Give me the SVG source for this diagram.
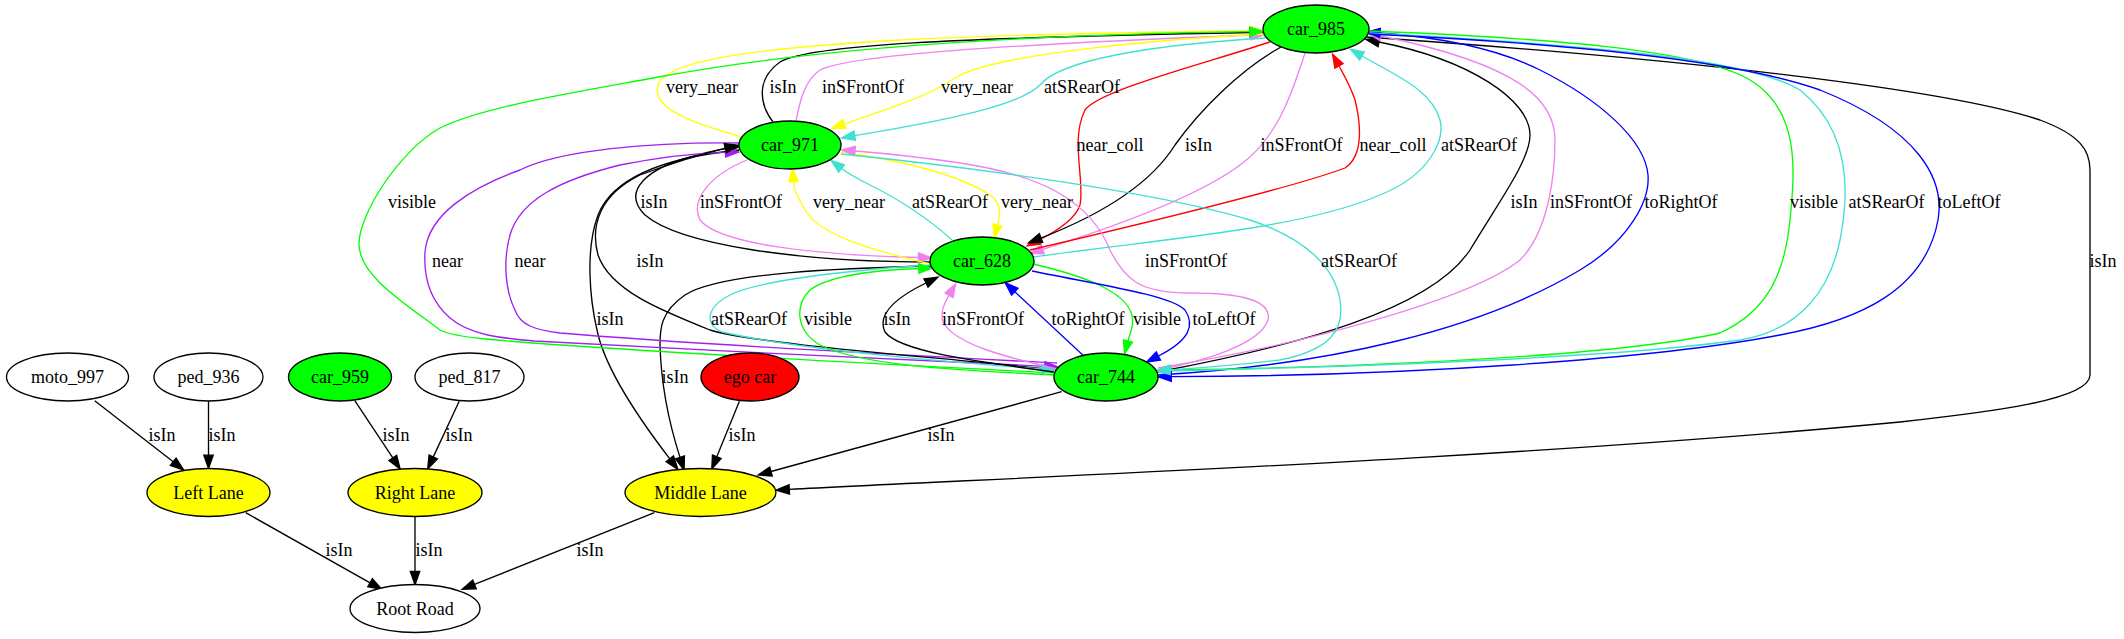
<svg xmlns="http://www.w3.org/2000/svg" width="2124" height="639" viewBox="0 0 2124 639">
<style>
.n{stroke:#000;stroke-width:1.33}
.w{fill:#fff}.g{fill:#00ff00}.r{fill:#ff0000}.y{fill:#ffff00}
text{font-family:"Liberation Serif","Times New Roman",serif;font-size:18px;text-anchor:middle;fill:#000}
.e{fill:none;stroke-width:1.33}
.k{stroke:#000;marker-end:url(#ak)}
.ye{stroke:#ffff00;marker-end:url(#ay)}
.gr{stroke:#00ff00;marker-end:url(#ag)}
.vi{stroke:#ee82ee;marker-end:url(#av)}
.tq{stroke:#40e0d0;marker-end:url(#at)}
.rd{stroke:#ff0000;marker-end:url(#ar)}
.bl{stroke:#0000ff;marker-end:url(#ab)}
.pu{stroke:#a020f0;marker-end:url(#ap)}
</style>
<defs>
<marker id="ak" viewBox="0 0 14 10" refX="0" refY="5" markerWidth="14" markerHeight="10" markerUnits="userSpaceOnUse" orient="auto" overflow="visible"><path d="M0,0.33 L13.3,5 L0,9.67 z" fill="#000" stroke="#000" stroke-width="1.33"/></marker>
<marker id="ay" viewBox="0 0 14 10" refX="0" refY="5" markerWidth="14" markerHeight="10" markerUnits="userSpaceOnUse" orient="auto" overflow="visible"><path d="M0,0.33 L13.3,5 L0,9.67 z" fill="#ffff00" stroke="#ffff00" stroke-width="1.33"/></marker>
<marker id="ag" viewBox="0 0 14 10" refX="0" refY="5" markerWidth="14" markerHeight="10" markerUnits="userSpaceOnUse" orient="auto" overflow="visible"><path d="M0,0.33 L13.3,5 L0,9.67 z" fill="#00ff00" stroke="#00ff00" stroke-width="1.33"/></marker>
<marker id="av" viewBox="0 0 14 10" refX="0" refY="5" markerWidth="14" markerHeight="10" markerUnits="userSpaceOnUse" orient="auto" overflow="visible"><path d="M0,0.33 L13.3,5 L0,9.67 z" fill="#ee82ee" stroke="#ee82ee" stroke-width="1.33"/></marker>
<marker id="at" viewBox="0 0 14 10" refX="0" refY="5" markerWidth="14" markerHeight="10" markerUnits="userSpaceOnUse" orient="auto" overflow="visible"><path d="M0,0.33 L13.3,5 L0,9.67 z" fill="#40e0d0" stroke="#40e0d0" stroke-width="1.33"/></marker>
<marker id="ar" viewBox="0 0 14 10" refX="0" refY="5" markerWidth="14" markerHeight="10" markerUnits="userSpaceOnUse" orient="auto" overflow="visible"><path d="M0,0.33 L13.3,5 L0,9.67 z" fill="#ff0000" stroke="#ff0000" stroke-width="1.33"/></marker>
<marker id="ab" viewBox="0 0 14 10" refX="0" refY="5" markerWidth="14" markerHeight="10" markerUnits="userSpaceOnUse" orient="auto" overflow="visible"><path d="M0,0.33 L13.3,5 L0,9.67 z" fill="#0000ff" stroke="#0000ff" stroke-width="1.33"/></marker>
<marker id="ap" viewBox="0 0 14 10" refX="0" refY="5" markerWidth="14" markerHeight="10" markerUnits="userSpaceOnUse" orient="auto" overflow="visible"><path d="M0,0.33 L13.3,5 L0,9.67 z" fill="#a020f0" stroke="#a020f0" stroke-width="1.33"/></marker>
</defs>
<rect width="2124" height="639" fill="#fff"/>
<g id="connectors">
<path class="e k" d="M94.7,400.7 L173.2,461.8"/>
<path class="e k" d="M208.5,401 L208.5,455.2"/>
<path class="e k" d="M354.8,400.7 L392.8,457.9"/>
<path class="e k" d="M459.2,401.3 L433.3,456.9"/>
<path class="e k" d="M739.4,401.3 L716.8,456.7"/>
<path class="e k" d="M245.7,512.7 L370.1,582.8"/>
<path class="e k" d="M415,516.5 L415,571.5"/>
<path class="e k" d="M654.4,512.7 L474.5,584.4"/>
<path class="e k" d="M1061.7,391.7 L771,471.5"/>
<path class="e k" d="M1366,37 C1700,60 1950,90 2040,120 C2080,135 2090,150 2090,170 L2090,375 C2090,400 1990,412 1900,422 C1500,460 1000,478 789.3,489.4"/>
<path class="e k" d="M739,150 C660,158 612,180 598,215 C585,250 590,300 597,330 C605,370 640,420 669.8,458.8"/>
<path class="e k" d="M932,266 C850,268 720,272 685,295 C660,312 660,330 660,345 C661,380 668,420 680,457.4"/>
<path class="e ye" d="M742,137 C700,125 650,110 658,85 C665,60 760,48 900,40 C1000,35 1150,32 1250,31"/>
<path class="e k" d="M773,122 C760,105 755,80 780,62 C810,45 950,38 1250,32.5"/>
<path class="e vi" d="M796,121 C800,100 805,80 820,70 C850,55 1000,45 1251,35"/>
<path class="e ye" d="M1264,34 C1150,40 990,55 955,78 C930,95 900,105 844.3,124"/>
<path class="e tq" d="M1265,38 C1150,45 1060,60 1040,85 C1020,105 950,120 854.7,135.7"/>
<path class="e gr" d="M1055,373 C900,365 600,350 486,339 C465,337 450,335 440,330 C400,300 360,275 359,245 C358,215 400,150 440,128 C480,108 560,95 653,78 C800,50 1000,35 1250,31.7"/>
<path class="e rd" d="M1270,42 C1200,65 1100,90 1085,110 C1070,140 1085,180 1080,205 C1075,220 1055,232 1039,240"/>
<path class="e k" d="M1281,47 C1240,70 1200,110 1175,145 C1150,185 1100,215 1041,238"/>
<path class="e vi" d="M1305,53 C1290,100 1275,140 1240,165 C1200,195 1120,225 1042.8,249.3"/>
<path class="e rd" d="M1030,250 C1150,222 1300,185 1345,168 C1365,155 1360,120 1355,100 C1350,85 1344,75 1339,66"/>
<path class="e tq" d="M1034,257 C1150,240 1300,230 1380,195 C1430,175 1445,140 1440,120 C1432,90 1395,75 1362,56"/>
<path class="e k" d="M1157,372 C1300,345 1430,310 1470,250 C1500,200 1530,160 1530,135 C1530,100 1470,60 1379,42"/>
<path class="e vi" d="M1158,368 C1300,345 1470,300 1520,260 C1550,230 1555,170 1555,140 C1555,100 1520,65 1381,36"/>
<path class="e bl" d="M1158,375 C1330,365 1480,330 1580,270 C1630,240 1650,200 1648,175 C1645,140 1600,100 1540,70 C1500,50 1450,38 1380,33"/>
<path class="e gr" d="M1369,31 C1550,38 1700,50 1750,80 C1800,110 1795,170 1790,220 C1785,270 1770,310 1720,333 C1600,360 1300,368 1170.3,370"/>
<path class="e tq" d="M1369,33 C1600,45 1750,60 1800,90 C1850,130 1850,190 1840,240 C1830,290 1800,330 1740,340 C1600,360 1300,368 1170,371"/>
<path class="e bl" d="M1369,34 C1600,45 1750,65 1820,90 C1920,130 1945,180 1938,220 C1925,290 1860,320 1780,335 C1650,360 1400,376 1171.3,376.7"/>
<path class="e k" d="M930,262 C800,262 680,245 645,215 C620,190 650,168 690,157 C705,153 715,150 725.5,148.6"/>
<path class="e vi" d="M747,160 C710,175 690,200 700,220 C720,245 820,255 918.4,257.5"/>
<path class="e ye" d="M931,264 C870,250 820,235 805,210 C797,195 794,190 793.5,181.6"/>
<path class="e tq" d="M952,240 C930,220 900,200 870,185 C860,180 850,175 841.6,168.5"/>
<path class="e ye" d="M841,152 C900,160 960,175 990,195 C1003,205 1000,215 997.5,225"/>
<path class="e pu" d="M740,143 C650,142 560,150 520,170 C470,188 428,215 425,252 C423,285 435,305 450,318 C470,335 500,338 534,341 C700,350 900,360 1044.7,366.3"/>
<path class="e pu" d="M1057,363 C900,355 700,345 560,333 C535,330 520,325 515,310 C505,290 503,260 510,235 C520,200 560,180 620,165 C660,157 700,153 725.5,152.3"/>
<path class="e k" d="M1056,370 C950,358 760,345 710,330 C660,310 610,290 598,255 C590,225 600,195 640,175 C680,160 710,152 725.3,148.3"/>
<path class="e vi" d="M1158,370 C1200,362 1260,345 1268,320 C1272,300 1240,293 1190,293 C1140,293 1125,280 1110,250 C1090,200 1040,175 960,163 C920,157 880,153 855,151"/>
<path class="e tq" d="M841,154 C950,165 1150,190 1250,220 C1310,240 1335,270 1340,300 C1345,330 1330,350 1280,360 C1230,366 1200,368 1170,370"/>
<path class="e tq" d="M931,265 C850,270 760,280 730,295 C705,308 705,325 722,332 C800,350 950,362 1041.7,369"/>
<path class="e gr" d="M1055,375 C950,370 860,365 820,345 C795,330 795,305 810,290 C830,275 880,270 918.8,268.5"/>
<path class="e k" d="M1054,372 C980,362 900,352 885,332 C877,315 895,298 926,283"/>
<path class="e vi" d="M1057,369 C1010,358 955,345 943,322 C940,312 944,304 949,295.3"/>
<path class="e bl" d="M1083.3,355.5 L1014.8,291.7"/>
<path class="e gr" d="M1033,264 C1080,275 1125,290 1132,315 C1134,325 1131,330 1128,341"/>
<path class="e bl" d="M1032,271 C1100,285 1170,295 1185,310 C1195,325 1190,340 1158.4,356"/>
</g>
<g id="edge-labels">
<text x="702" y="93">very_near</text>
<text x="783" y="93">isIn</text>
<text x="863" y="93">inSFrontOf</text>
<text x="977" y="93">very_near</text>
<text x="1082" y="93">atSRearOf</text>
<text x="1110" y="151">near_coll</text>
<text x="1198.5" y="151">isIn</text>
<text x="1301.5" y="151">inSFrontOf</text>
<text x="1393" y="151">near_coll</text>
<text x="1479" y="151">atSRearOf</text>
<text x="412" y="208">visible</text>
<text x="654" y="208">isIn</text>
<text x="741" y="208">inSFrontOf</text>
<text x="849" y="208">very_near</text>
<text x="950" y="208">atSRearOf</text>
<text x="1037" y="208">very_near</text>
<text x="1524" y="208">isIn</text>
<text x="1591" y="208">inSFrontOf</text>
<text x="1681" y="208">toRightOf</text>
<text x="1814" y="208">visible</text>
<text x="1886.5" y="208">atSRearOf</text>
<text x="1969" y="208">toLeftOf</text>
<text x="447.5" y="266.5">near</text>
<text x="530" y="266.5">near</text>
<text x="650" y="266.5">isIn</text>
<text x="1186" y="266.5">inSFrontOf</text>
<text x="1359" y="266.5">atSRearOf</text>
<text x="2103" y="266.5">isIn</text>
<text x="610" y="324.5">isIn</text>
<text x="749" y="324.5">atSRearOf</text>
<text x="828" y="324.5">visible</text>
<text x="897" y="324.5">isIn</text>
<text x="983" y="324.5">inSFrontOf</text>
<text x="1088" y="324.5">toRightOf</text>
<text x="1157" y="324.5">visible</text>
<text x="1224" y="324.5">toLeftOf</text>
<text x="675" y="383">isIn</text>
<text x="162" y="440.5">isIn</text>
<text x="222" y="440.5">isIn</text>
<text x="396" y="440.5">isIn</text>
<text x="459" y="440.5">isIn</text>
<text x="742" y="440.5">isIn</text>
<text x="941" y="440.5">isIn</text>
<text x="339" y="556">isIn</text>
<text x="429" y="556">isIn</text>
<text x="590" y="556">isIn</text>
</g>
<g id="n_car_985"><ellipse class="n g" cx="1316" cy="29" rx="53" ry="24"/><text x="1316" y="35">car_985</text></g>
<g id="n_car_971"><ellipse class="n g" cx="790" cy="145" rx="51" ry="24"/><text x="790" y="151">car_971</text></g>
<g id="n_car_628"><ellipse class="n g" cx="982" cy="261" rx="52" ry="24"/><text x="982" y="267">car_628</text></g>
<g id="n_car_744"><ellipse class="n g" cx="1106" cy="377" rx="52" ry="24"/><text x="1106" y="383">car_744</text></g>
<g id="n_moto_997"><ellipse class="n w" cx="67.5" cy="377" rx="61" ry="24"/><text x="67.5" y="383">moto_997</text></g>
<g id="n_ped_936"><ellipse class="n w" cx="208.5" cy="377" rx="54.5" ry="24"/><text x="208.5" y="383">ped_936</text></g>
<g id="n_car_959"><ellipse class="n g" cx="340" cy="377" rx="51.5" ry="24"/><text x="340" y="383">car_959</text></g>
<g id="n_ped_817"><ellipse class="n w" cx="469.5" cy="377" rx="54.5" ry="24"/><text x="469.5" y="383">ped_817</text></g>
<g id="n_ego_car"><ellipse class="n r" cx="750" cy="377" rx="49" ry="24"/><text x="750" y="383">ego car</text></g>
<g id="n_left_lane"><ellipse class="n y" cx="208.5" cy="492.5" rx="61.5" ry="24"/><text x="208.5" y="498.5">Left Lane</text></g>
<g id="n_right_lane"><ellipse class="n y" cx="415" cy="492.5" rx="67" ry="24"/><text x="415" y="498.5">Right Lane</text></g>
<g id="n_middle_lane"><ellipse class="n y" cx="700.5" cy="492.5" rx="75.5" ry="24"/><text x="700.5" y="498.5">Middle Lane</text></g>
<g id="n_root_road"><ellipse class="n w" cx="415" cy="608.5" rx="65" ry="24"/><text x="415" y="614.5">Root Road</text></g>
</svg>
